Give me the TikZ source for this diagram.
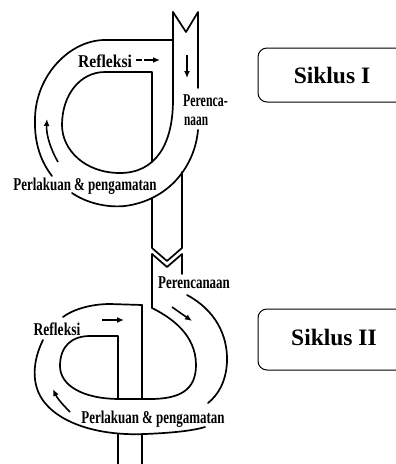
\documentclass[tikz,border=0pt]{standalone}
\usepackage{fontspec}
\setmainfont{Liberation Serif}
\usetikzlibrary{arrows.meta}
\begin{document}
\begin{tikzpicture}[x=1pt,y=-1pt,
  band/.style={line width=1.7pt, line cap=round, line join=round},
  flow/.style={line width=1.6pt, -{Latex[length=7pt,width=6pt]}},
  lbl/.style={font=\fontsize{18}{20}\selectfont\bfseries, inner sep=0pt, anchor=base},
  box/.style={line width=1pt, rounded corners=9pt},
  boxtext/.style={font=\fontsize{23.5}{26}\selectfont\bfseries, inner sep=0pt, anchor=base}]
\useasboundingbox (0,0) rectangle (396,464);
\clip (0,0) rectangle (396,464);

% ---------- Cycle I ----------
\draw[band] (173,12) -- (186,32) -- (198,12) -- (198,88);
\draw[band] (173,12) -- (173,100) .. controls (173,145) and (155,173) .. (120,173)
  .. controls (85,173) and (62,150) .. (62,125) .. controls (62,95) and (80,72) .. (105,72)
  -- (152,72) -- (152,162);
\draw[band] (173,40) -- (105,40) .. controls (70,40) and (36,75) .. (35,118)
  .. controls (34,145) and (42,163) .. (52,176);
\draw[band] (198,130) .. controls (195,165) and (170,200) .. (125,206)
  .. controls (105,208) and (85,202) .. (72,193);
\draw[band] (152,198) -- (152,248) -- (167,261) -- (182,248) -- (182,172);

\draw[line width=1.6pt] (136,60) -- (142,60);
\draw[flow] (144,60) -- (160,60);
\draw[flow] (187,55) -- (187,78);
\draw[flow] (58,162) .. controls (51,150) and (46,135) .. (47,119);

\node[lbl, xscale=0.87] (refI) at (105,67) {Refleksi};
\node[lbl, xscale=0.66, anchor=base west] (perIa) at (183,106) {Perenca-};
\node[lbl, xscale=0.63, anchor=base west] (perIb) at (184,125) {naan};
\node[lbl, xscale=0.72] (plI) at (85,190) {Perlakuan \& pengamatan};

% ---------- Cycle II ----------
\draw[band] (152,254) -- (167,267) -- (182,254) -- (182,274);
\draw[band] (152,254) -- (152,308) .. controls (172,318) and (196,335) .. (196,365)
  .. controls (196,390) and (180,399) .. (150,399) -- (120,399)
  .. controls (82,399) and (60,385) .. (60,366) .. controls (60,346) and (72,336) .. (90,336)
  -- (118,336) -- (118,399);
\draw[band] (142,305) -- (142,399);
\draw[band] (142,305) -- (110,304) .. controls (90,304) and (72,310) .. (63,317);
\draw[band] (187,295) .. controls (215,310) and (228,335) .. (227,362)
  .. controls (226,382) and (218,395) .. (208,403);
\draw[band] (43,340) .. controls (33,360) and (30,385) .. (45,403)
  .. controls (62,424) and (100,436) .. (145,434) .. controls (170,433) and (192,431) .. (205,427);
\draw[band] (118,434) -- (118,464);
\draw[band] (142,434) -- (142,464);

\draw[flow] (102,320) -- (124,320);
\draw[flow] (172,307) -- (192,321);
\draw[flow] (70,412) .. controls (63,405) and (57,398) .. (53,389);

\node[lbl, xscale=0.72] (perII) at (194,288) {Perencanaan};
\node[lbl, xscale=0.755] (refII) at (57,335) {Refleksi};
\node[lbl, xscale=0.72] (plII) at (153,423) {Perlakuan \& pengamatan};

% ---------- Boxes ----------
\draw[box] (258,48) rectangle (420,102);
\node[boxtext] (sI) at (332,83) {Siklus I};
\draw[box] (258,309) rectangle (420,370);
\node[boxtext] (sII) at (334,345) {Siklus II};
\end{tikzpicture}
\end{document}
